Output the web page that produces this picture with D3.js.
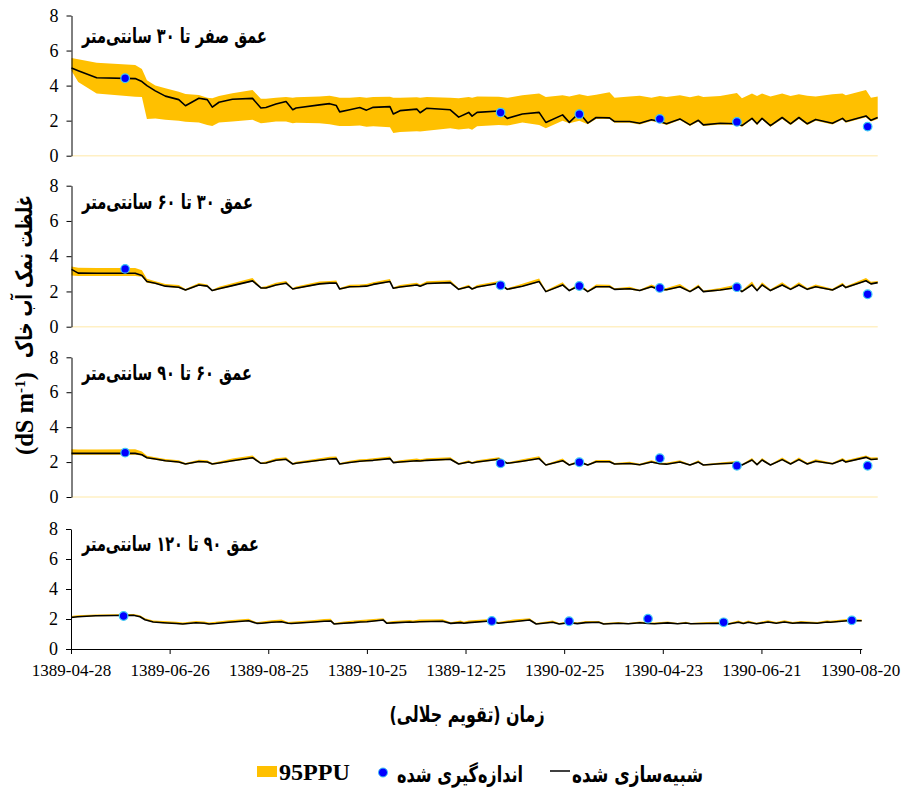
<!DOCTYPE html>
<html><head><meta charset="utf-8">
<script src="https://cdn.jsdelivr.net/npm/d3@7"></script>
<style>body{margin:0;background:#fff} svg{display:block}</style>
</head><body>
<svg id="chart" width="901" height="789"></svg>
<script>
// ---------------- DATA ----------------
const days = [0,4,15,38,42,45,50,56,64,68, 76,81,84,88,96,108,113,116,122,128,
  132,134,148,154,158,160,166,172,176,180, 190,192,196,206,208,212,226,231,237,239,
  242,255,260,269,279,283,293,297,303,308, 313,321,324,333,339,346,351,355,363,369,
  374,377,387,397,400,406,409,412,417,424, 429,434,439,444,454,460,462,474,477,481];

const xTickDays = [0,60,120,180,240,300,360,420,480];
const xTickLabels = ["1389-04-28","1389-06-26","1389-08-25","1389-10-25","1389-12-25","1390-02-25","1390-04-23","1390-06-21","1390-08-20"];
const yTicks = [0,2,4,6,8];
const obsDays = [32,256,303,351,397,475];

const titles = ["عمق صفر تا ۳۰ سانتی‌متر","عمق ۳۰ تا ۶۰ سانتی‌متر","عمق ۶۰ تا ۹۰ سانتی‌متر","عمق ۹۰ تا ۱۲۰ سانتی‌متر"];

// depth 0-30
const sim1 = [5.0,4.85,4.45,4.4,4.23,4.0,3.7,3.4,3.2,2.85, 3.28,3.2,2.77,3.05,3.22,3.27,2.72,2.75,2.95,3.09,
  2.62,2.72,2.9,2.97,2.86,2.5,2.62,2.75,2.6,2.76, 2.8,2.38,2.57,2.66,2.45,2.71,2.62,2.2,2.47,2.26,
  2.47,2.55,2.13,2.38,2.47,1.9,2.33,1.9,2.45,1.86, 2.18,2.16,1.95,1.95,1.85,2.05,1.95,1.82,2.1,1.76,
  2.02,1.76,1.85,1.82,1.72,2.13,1.82,2.13,1.72,2.18, 1.82,2.18,1.82,2.07,1.85,2.13,1.95,2.27,2.02,2.18];
const hi1 = [5.57,5.5,5.3,5.18,4.95,4.3,4.0,3.85,3.65,3.52, 3.47,3.3,3.28,3.4,3.56,3.75,3.25,3.25,3.3,3.35,
  3.3,3.34,3.38,3.42,3.35,3.3,3.3,3.35,3.3,3.35, 3.36,3.3,3.3,3.34,3.3,3.35,3.3,3.28,3.35,3.3,
  3.38,3.37,3.3,3.45,3.55,3.35,3.45,3.38,3.5,3.4, 3.48,3.62,3.3,3.38,3.42,3.3,3.4,3.35,3.45,3.33,
  3.44,3.35,3.4,3.58,3.28,3.55,3.4,3.55,3.38,3.55, 3.4,3.5,3.42,3.38,3.5,3.55,3.45,3.75,3.3,3.38];
const lo1 = [4.85,4.2,3.55,3.37,3.35,2.1,2.12,2.05,2.0,1.94, 1.9,1.75,1.7,1.9,1.95,2.05,1.85,1.88,1.95,1.95,
  1.85,1.88,1.85,1.8,1.72,1.7,1.7,1.72,1.65,1.68, 1.62,1.3,1.35,1.4,1.38,1.42,1.57,1.5,1.55,1.48,
  1.68,1.75,1.72,1.9,1.75,1.57,2.0,1.85,2.0,1.8, 2.1,2.1,1.88,1.88,1.78,1.98,1.88,1.75,2.03,1.7,
  1.95,1.7,1.78,1.75,1.65,2.06,1.75,2.06,1.65,2.1, 1.75,2.1,1.75,2.0,1.78,2.06,1.88,2.2,1.95,2.1];
const obs1 = [4.42,2.46,2.37,2.1,1.93,1.66];

// depth 30-60
const sim2 = [3.25,3.04,3.03,3.03,2.9,2.56,2.47,2.3,2.24,2.08, 2.37,2.3,2.05,2.15,2.33,2.6,2.2,2.2,2.37,2.47,
  2.14,2.18,2.43,2.47,2.47,2.14,2.27,2.28,2.3,2.4, 2.56,2.18,2.25,2.37,2.3,2.45,2.5,2.12,2.27,2.14,
  2.25,2.47,2.12,2.3,2.56,1.99,2.37,2.05,2.33,1.99, 2.27,2.27,2.12,2.15,2.05,2.27,2.1,2.1,2.27,1.99,
  2.27,1.99,2.08,2.22,1.99,2.37,2.05,2.37,2.05,2.37, 2.12,2.37,2.12,2.27,2.08,2.37,2.22,2.61,2.43,2.5];
const hi2 = [3.42,3.35,3.33,3.33,3.2,2.72,2.58,2.42,2.36,2.14, 2.48,2.4,2.1,2.26,2.46,2.76,2.25,2.3,2.5,2.6,
  2.2,2.28,2.56,2.6,2.62,2.2,2.38,2.4,2.42,2.52, 2.7,2.24,2.36,2.5,2.4,2.58,2.64,2.18,2.38,2.2,
  2.36,2.6,2.18,2.44,2.74,2.05,2.52,2.1,2.48,2.05, 2.4,2.38,2.18,2.26,2.1,2.4,2.2,2.2,2.42,2.05,
  2.4,2.05,2.2,2.4,2.05,2.56,2.12,2.52,2.12,2.52, 2.2,2.52,2.2,2.4,2.16,2.5,2.3,2.76,2.55,2.6];
const lo2 = [2.9,2.88,2.88,2.88,2.84,2.5,2.42,2.26,2.2,2.04, 2.33,2.26,2.01,2.11,2.29,2.56,2.16,2.16,2.33,2.43,
  2.1,2.14,2.39,2.43,2.43,2.1,2.23,2.24,2.26,2.36, 2.52,2.14,2.21,2.33,2.26,2.41,2.46,2.08,2.23,2.1,
  2.21,2.43,2.08,2.26,2.52,1.95,2.33,2.01,2.29,1.95, 2.23,2.23,2.08,2.11,2.01,2.23,2.06,2.06,2.23,1.95,
  2.23,1.95,2.04,2.18,1.95,2.33,2.01,2.33,2.01,2.33, 2.08,2.33,2.08,2.23,2.04,2.33,2.18,2.57,2.39,2.46];
const obs2 = [3.28,2.35,2.31,2.2,2.24,1.84];

// depth 60-90
const sim3 = [2.5,2.5,2.5,2.5,2.42,2.25,2.18,2.08,2.0,1.89, 2.03,2.0,1.89,1.95,2.08,2.25,1.93,1.95,2.1,2.16,
  1.89,1.93,2.1,2.18,2.2,1.89,1.98,2.05,2.08,2.1, 2.2,1.97,2.0,2.08,2.06,2.1,2.16,1.89,2.0,1.95,
  2.0,2.16,1.93,2.05,2.2,1.83,2.08,1.83,2.0,1.83, 2.02,2.02,1.89,1.92,1.85,2.0,1.9,1.88,2.0,1.83,
  2.0,1.83,1.9,1.95,1.83,2.12,1.85,2.12,1.83,2.14, 1.89,2.14,1.89,2.05,1.9,2.12,2.0,2.27,2.15,2.18];
const hi3 = [2.73,2.72,2.72,2.73,2.6,2.36,2.28,2.18,2.1,1.95, 2.14,2.1,1.94,2.04,2.2,2.38,1.98,2.04,2.22,2.28,
  1.94,2.02,2.22,2.3,2.32,1.94,2.08,2.16,2.18,2.22, 2.32,2.02,2.1,2.2,2.16,2.22,2.28,1.94,2.1,2.0,
  2.1,2.28,1.98,2.16,2.34,1.88,2.2,1.88,2.12,1.88, 2.12,2.12,1.94,2.02,1.9,2.1,1.96,1.96,2.1,1.88,
  2.1,1.88,1.98,2.06,1.88,2.24,1.92,2.24,1.88,2.26, 1.96,2.26,1.96,2.16,1.96,2.24,2.1,2.38,2.26,2.28];
const lo3 = [2.42,2.42,2.42,2.42,2.38,2.21,2.14,2.04,1.96,1.85, 1.99,1.96,1.85,1.91,2.04,2.21,1.89,1.91,2.06,2.12,
  1.85,1.89,2.06,2.14,2.16,1.85,1.94,2.01,2.04,2.06, 2.16,1.93,1.96,2.04,2.02,2.06,2.12,1.85,1.96,1.91,
  1.96,2.12,1.89,2.01,2.16,1.79,2.04,1.79,1.96,1.79, 1.98,1.98,1.85,1.88,1.81,1.96,1.86,1.84,1.96,1.79,
  1.96,1.79,1.86,1.91,1.79,2.08,1.81,2.08,1.79,2.1, 1.85,2.1,1.85,2.01,1.86,2.08,1.96,2.23,2.11,2.14];
const obs3 = [2.54,1.93,1.99,2.22,1.79,1.79];

// depth 90-120
const sim4 = [2.1,2.15,2.22,2.25,2.15,1.95,1.8,1.75,1.7,1.67, 1.75,1.72,1.67,1.7,1.78,1.88,1.71,1.72,1.78,1.82,
  1.72,1.7,1.8,1.85,1.87,1.67,1.72,1.76,1.8,1.82, 1.93,1.72,1.74,1.8,1.78,1.82,1.85,1.71,1.76,1.72,
  1.76,1.87,1.72,1.82,1.93,1.67,1.78,1.67,1.75,1.69, 1.76,1.78,1.67,1.72,1.68,1.75,1.7,1.68,1.74,1.68,
  1.73,1.68,1.7,1.72,1.67,1.78,1.7,1.78,1.68,1.8, 1.72,1.8,1.72,1.76,1.72,1.8,1.78,1.9,1.88,1.88];
const hi4 = [2.2,2.25,2.3,2.33,2.25,2.05,1.9,1.86,1.82,1.76, 1.86,1.84,1.76,1.82,1.92,2.02,1.78,1.84,1.92,1.96,
  1.8,1.82,1.94,2.0,2.02,1.74,1.84,1.9,1.94,1.96, 2.05,1.8,1.86,1.94,1.9,1.96,1.98,1.78,1.9,1.82,
  1.9,2.0,1.8,1.96,2.05,1.74,1.9,1.74,1.86,1.76, 1.86,1.86,1.74,1.8,1.74,1.84,1.78,1.76,1.84,1.74,
  1.82,1.74,1.8,1.82,1.73,1.9,1.78,1.9,1.75,1.92, 1.8,1.92,1.8,1.86,1.8,1.92,1.88,2.02,1.98,1.96];
const lo4 = [2.07,2.12,2.19,2.22,2.12,1.92,1.77,1.72,1.67,1.64, 1.72,1.69,1.64,1.67,1.75,1.85,1.68,1.69,1.75,1.79,
  1.69,1.67,1.77,1.82,1.84,1.64,1.69,1.73,1.77,1.79, 1.9,1.69,1.71,1.77,1.75,1.79,1.82,1.68,1.73,1.69,
  1.73,1.84,1.69,1.79,1.9,1.64,1.75,1.64,1.72,1.66, 1.73,1.75,1.64,1.69,1.65,1.72,1.67,1.65,1.71,1.65,
  1.7,1.65,1.67,1.69,1.64,1.75,1.67,1.75,1.65,1.77, 1.69,1.77,1.69,1.73,1.69,1.77,1.75,1.87,1.85,1.85];
const obs4 = [2.2,1.87,1.85,2.02,1.78,1.91];

const legendLabels = ["95PPU","اندازه‌گیری شده","شبیه‌سازی شده"];
const yLabelFa = "غلظت نمک آب خاک";
const xLabelFa = "زمان (تقویم جلالی)\u200F";

// ---------------- LAYOUT ----------------
const BAND = "#FFC000", DOT = "#0000FF", DOTSTROKE = "#3FC8F4";
const SERIF = "'Liberation Serif','Times New Roman',serif";
const FA = "'DejaVu Sans',sans-serif";
const svg = d3.select("#chart");

const panels = [
  {sim:sim1, lo:lo1, hi:hi1, obs:obs1, title:titles[0], y0:155.7, y8:15.5, xr:[71.5,877.7], ty:42.5, tw:185, xAxis:false},
  {sim:sim2, lo:lo2, hi:hi2, obs:obs2, title:titles[1], y0:326.7, y8:185.7, xr:[71.5,877.7], ty:209, tw:171, xAxis:false},
  {sim:sim3, lo:lo3, hi:hi3, obs:obs3, title:titles[2], y0:497, y8:357.3, xr:[71.5,877.7], ty:379.5, tw:170, xAxis:false},
  {sim:sim4, lo:lo4, hi:hi4, obs:obs4, title:titles[3], y0:649, y8:529, xr:[71,861.7], ty:551, tw:177, xAxis:true}
];

// squeeze a text horizontally to a given length, keeping its font size (height)
function squeeze(sel, w){
  const L = sel.node().getComputedTextLength();
  if (L > w) sel.attr("textLength", w).attr("lengthAdjust", "spacingAndGlyphs");
  else {
    const fs = parseFloat(sel.attr("font-size"));
    sel.attr("font-size", (fs * w / L).toFixed(2));
  }
}

panels.forEach(p => {
  const x = d3.scaleLinear().domain([0,481]).range(p.xr);
  const y = d3.scaleLinear().domain([0,8]).range([p.y0, p.y8]);
  const g = svg.append("g");
  const idx = d3.range(days.length);

  if (!p.xAxis) {
    g.append("line").attr("x1", p.xr[0]).attr("x2", p.xr[1])
      .attr("y1", y(0)).attr("y2", y(0))
      .attr("stroke", "#FFF0C4").attr("stroke-width", 1.5);
  }

  g.append("path").datum(idx)
    .attr("fill", BAND)
    .attr("d", d3.area().x(i => x(days[i])).y0(i => y(p.lo[i])).y1(i => y(p.hi[i])));

  g.append("path").datum(idx)
    .attr("fill", "none").attr("stroke", "#000").attr("stroke-width", 1.6)
    .attr("stroke-linejoin", "round")
    .attr("d", d3.line().x(i => x(days[i])).y(i => y(p.sim[i])));

  g.selectAll("circle.obs").data(obsDays).enter().append("circle")
    .attr("class","obs")
    .attr("cx", (d) => x(d)).attr("cy", (d,i) => y(p.obs[i]))
    .attr("r", 4.3).attr("fill", DOT).attr("stroke", DOTSTROKE).attr("stroke-width", 1.2);

  const ya = g.append("g").attr("transform", `translate(${p.xr[0]},0)`)
    .call(d3.axisLeft(y).tickValues(yTicks).tickSize(5).tickSizeOuter(0).tickPadding(8).tickFormat(d3.format("d")));
  ya.select(".domain").attr("stroke", "#000");
  ya.selectAll(".tick line").attr("stroke", "#000");
  ya.selectAll(".tick text").attr("font-family", SERIF).attr("font-size", 18).attr("fill", "#000");

  if (p.xAxis) {
    const xa = g.append("g").attr("transform", `translate(0,${y(0)})`)
      .call(d3.axisBottom(x).tickValues(xTickDays).tickSize(5).tickSizeOuter(0).tickPadding(10)
        .tickFormat((d,i) => xTickLabels[i]));
    xa.select(".domain").attr("stroke", "#000");
    xa.selectAll(".tick line").attr("stroke", "#000");
    xa.selectAll(".tick text").attr("font-family", SERIF).attr("font-size", 17).attr("fill", "#000");
  }

  const t = g.append("text").attr("x", 82).attr("y", p.ty)
    .attr("font-family", FA).attr("font-weight", "bold").attr("font-size", 21)
    .attr("fill", "#000").text(p.title);
  squeeze(t, p.tw);
});

// y-axis label (rotated)
const yl1 = svg.append("text").attr("transform", "translate(32,195) rotate(-90)")
  .attr("text-anchor", "end").attr("font-family", FA).attr("font-weight", "bold")
  .attr("font-size", 23).attr("fill", "#000").text(yLabelFa);
squeeze(yl1, 163);
const yl2 = svg.append("text").attr("transform", "translate(33,455) rotate(-90)")
  .attr("text-anchor", "start").attr("font-family", SERIF).attr("font-weight", "bold")
  .attr("font-size", 20).attr("fill", "#000");
yl2.append("tspan").text("(dS m");
yl2.append("tspan").attr("baseline-shift", "super").attr("font-size", "0.62em").text("-1");
yl2.append("tspan").text(")");
{
  const L = yl2.node().getComputedTextLength();
  yl2.attr("font-size", (20 * 83 / L).toFixed(2));
}

// x-axis title
const xl = svg.append("text").attr("x", 467).attr("y", 722).attr("text-anchor", "middle")
  .attr("font-family", FA).attr("font-weight", "bold").attr("font-size", 22).attr("fill", "#000")
  .text(xLabelFa);
squeeze(xl, 155);

// legend
const lg = svg.append("g");
lg.append("rect").attr("x", 257).attr("y", 766).attr("width", 20).attr("height", 11).attr("fill", BAND);
const l1 = lg.append("text").attr("x", 279).attr("y", 779.5).attr("font-family", SERIF).attr("font-weight", "bold")
  .attr("font-size", 21).attr("fill", "#000").text(legendLabels[0]);
{
  const L = l1.node().getComputedTextLength();
  l1.attr("font-size", (21 * 71 / L).toFixed(2));
}
lg.append("circle").attr("cx", 383).attr("cy", 772.5).attr("r", 4.5).attr("fill", DOT).attr("stroke", DOTSTROKE).attr("stroke-width", 1);
const l2 = lg.append("text").attr("x", 397).attr("y", 782).attr("font-family", FA).attr("font-weight", "bold")
  .attr("font-size", 22).attr("fill", "#000").text(legendLabels[1]);
squeeze(l2, 126);
lg.append("line").attr("x1", 550).attr("x2", 570).attr("y1", 771).attr("y2", 771).attr("stroke", "#000").attr("stroke-width", 1.5);
const l3 = lg.append("text").attr("x", 572).attr("y", 782).attr("font-family", FA).attr("font-weight", "bold")
  .attr("font-size", 22).attr("fill", "#000").text(legendLabels[2]);
squeeze(l3, 131);
</script>
</body></html>
